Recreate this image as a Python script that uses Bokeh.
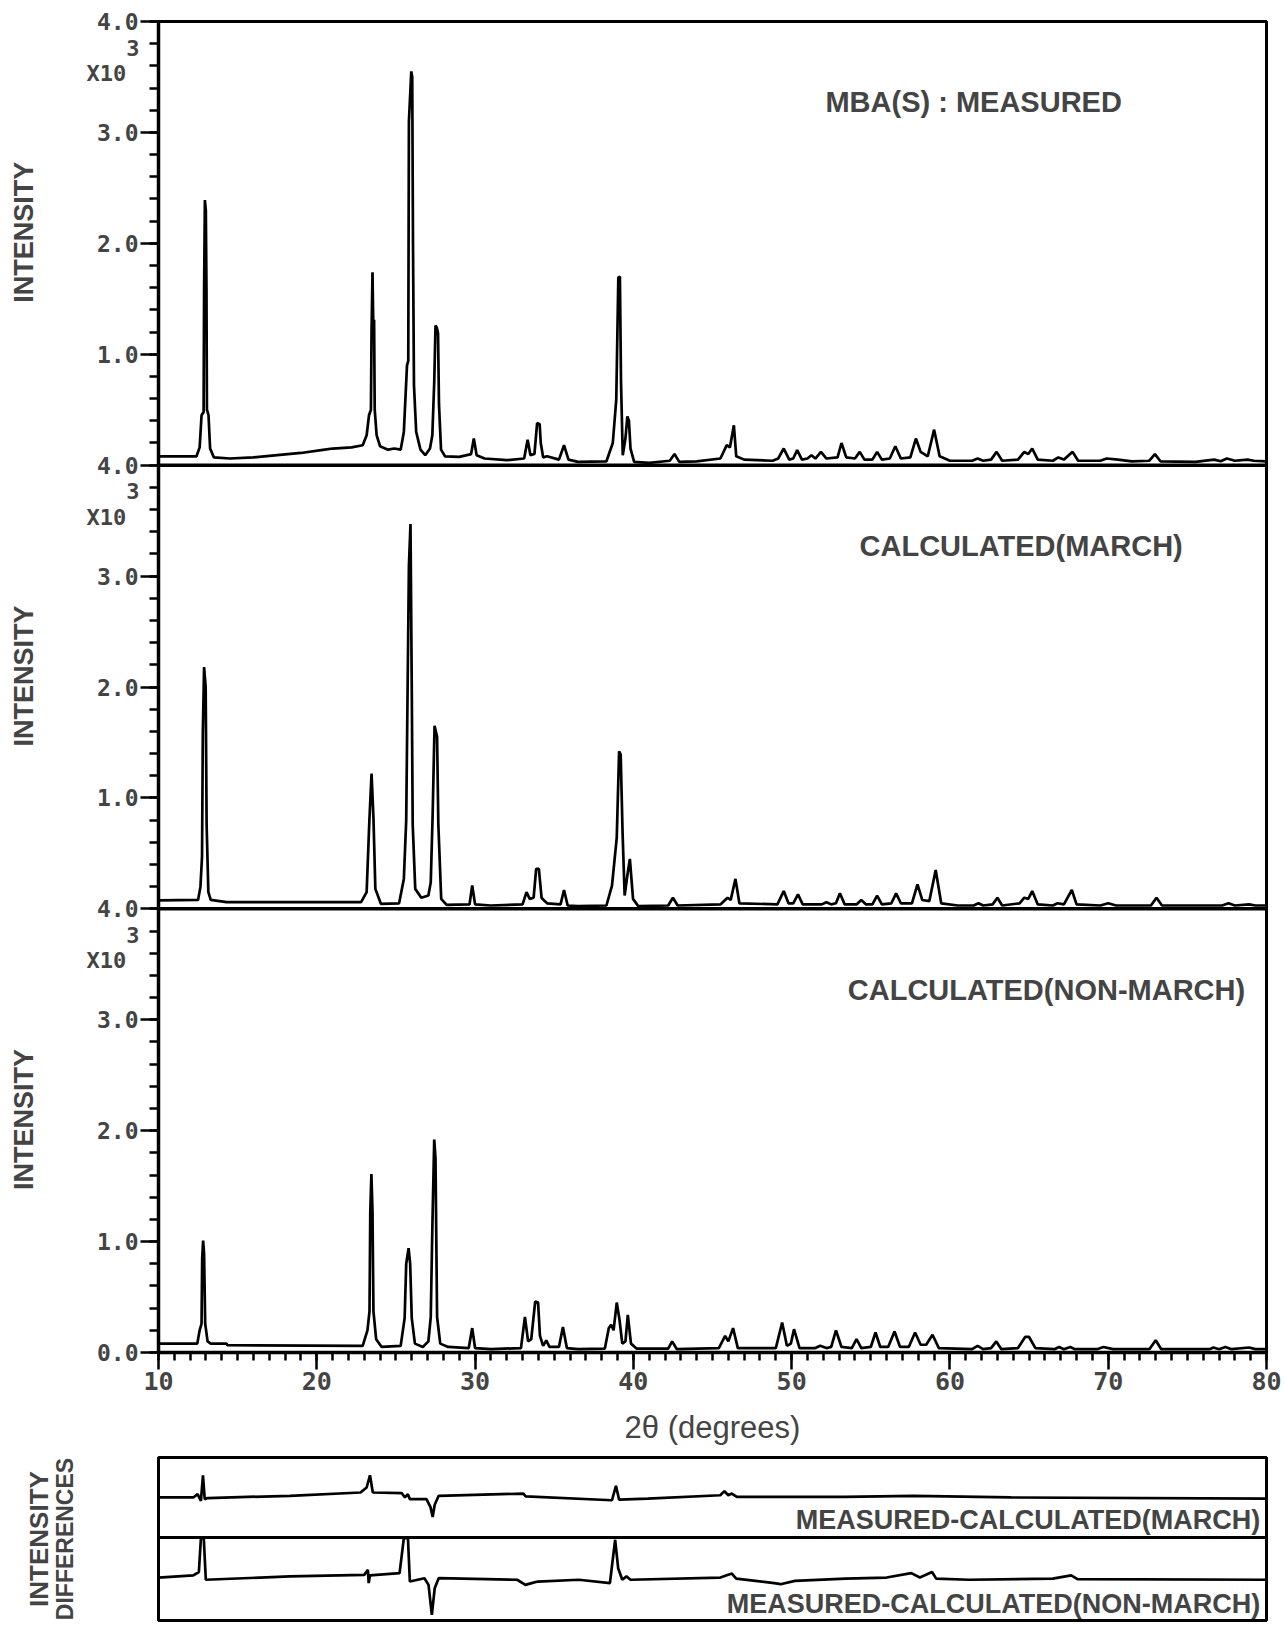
from bokeh.plotting import figure
from bokeh.models import Range1d, FixedTicker, SingleIntervalTicker, Span, Label, LinearAxis
from bokeh.layouts import column
from bokeh.embed import file_html
from bokeh.resources import INLINE

# ---------------- data (2theta in degrees, intensity in units of 10^3) ----------------
measured = [
    (10.0, 0.08), (12.4, 0.08), (12.6, 0.16), (12.72, 0.45), (12.85, 0.48), (12.88, 1.55), (12.93, 2.39),
    (12.99, 2.3), (13.03, 1.6), (13.06, 0.5), (13.16, 0.45), (13.26, 0.15), (13.5, 0.07), (14.5, 0.06),
    (16.0, 0.07), (17.5, 0.09), (19.0, 0.11), (20.5, 0.14), (21.0, 0.15), (22.2, 0.16), (22.9, 0.18),
    (23.15, 0.27), (23.3, 0.45), (23.42, 0.5), (23.46, 1.2), (23.52, 1.74), (23.57, 1.25), (23.62, 1.31),
    (23.66, 0.5), (23.78, 0.27), (24.0, 0.17), (24.5, 0.14), (24.9, 0.15), (25.3, 0.14), (25.5, 0.3),
    (25.7, 0.9), (25.78, 0.94), (25.82, 3.1), (25.97, 3.55), (26.03, 3.5), (26.08, 1.97), (26.14, 0.72),
    (26.28, 0.3), (26.55, 0.14), (26.85, 0.09), (27.15, 0.15), (27.3, 0.27), (27.42, 0.75), (27.5, 1.26),
    (27.58, 1.24), (27.66, 1.19), (27.72, 0.55), (27.85, 0.14), (28.1, 0.08), (29.0, 0.075), (29.75, 0.1),
    (29.92, 0.24), (30.1, 0.09), (30.6, 0.06), (32.0, 0.045), (33.1, 0.06), (33.32, 0.23), (33.5, 0.09),
    (33.75, 0.1), (33.92, 0.38), (34.08, 0.37), (34.15, 0.2), (34.3, 0.07), (34.55, 0.08), (35.3, 0.05),
    (35.62, 0.18), (35.9, 0.05), (36.5, 0.03), (38.3, 0.035), (38.7, 0.2), (38.92, 0.59), (39.05, 1.69),
    (39.15, 1.7), (39.22, 0.75), (39.33, 0.09), (39.5, 0.24), (39.62, 0.44), (39.72, 0.4), (39.82, 0.15),
    (40.05, 0.03), (41.0, 0.02), (42.3, 0.04), (42.6, 0.1), (42.9, 0.03), (44.0, 0.035), (45.5, 0.06),
    (45.9, 0.18), (46.1, 0.16), (46.35, 0.36), (46.5, 0.08), (47.0, 0.05), (48.8, 0.04), (49.15, 0.06),
    (49.5, 0.15), (49.85, 0.05), (50.1, 0.06), (50.35, 0.135), (50.65, 0.05), (51.0, 0.06), (51.25, 0.09),
    (51.5, 0.06), (51.85, 0.12), (52.2, 0.06), (52.9, 0.07), (53.15, 0.2), (53.45, 0.07), (54.0, 0.06),
    (54.3, 0.12), (54.6, 0.05), (55.1, 0.05), (55.4, 0.12), (55.7, 0.05), (56.2, 0.06), (56.55, 0.17),
    (56.9, 0.06), (57.5, 0.07), (57.85, 0.24), (58.15, 0.12), (58.6, 0.08), (59.0, 0.32), (59.35, 0.08),
    (60.0, 0.04), (61.4, 0.04), (61.75, 0.06), (62.1, 0.04), (62.6, 0.05), (62.95, 0.12), (63.3, 0.04),
    (64.3, 0.05), (64.7, 0.12), (64.95, 0.1), (65.2, 0.15), (65.55, 0.05), (66.5, 0.04), (66.85, 0.07),
    (67.2, 0.05), (67.75, 0.12), (68.1, 0.04), (69.5, 0.04), (69.9, 0.06), (70.6, 0.05), (71.5, 0.035),
    (72.6, 0.04), (72.95, 0.1), (73.3, 0.035), (75.5, 0.03), (76.7, 0.05), (77.1, 0.035), (77.5, 0.06),
    (78.0, 0.04), (78.8, 0.05), (79.2, 0.04), (80.0, 0.035),
]

calc_march = [
    (10.0, 0.076), (12.5, 0.08), (12.65, 0.2), (12.75, 0.47), (12.8, 1.58), (12.88, 2.18), (12.98, 2.0),
    (13.04, 0.76), (13.15, 0.15), (13.3, 0.08), (14.3, 0.06), (22.8, 0.06), (23.15, 0.15), (23.32, 0.79),
    (23.46, 1.22), (23.58, 0.82), (23.7, 0.18), (24.05, 0.045), (25.2, 0.05), (25.5, 0.27), (25.65, 0.8),
    (25.82, 3.09), (25.92, 3.47), (26.0, 2.0), (26.06, 0.76), (26.22, 0.18), (26.6, 0.1), (27.05, 0.12),
    (27.2, 0.24), (27.32, 0.85), (27.44, 1.65), (27.6, 1.55), (27.68, 0.76), (27.86, 0.09), (28.2, 0.036),
    (29.65, 0.04), (29.82, 0.21), (30.0, 0.04), (31.0, 0.03), (33.0, 0.04), (33.25, 0.15), (33.45, 0.09),
    (33.7, 0.1), (33.86, 0.36), (34.03, 0.36), (34.2, 0.1), (34.4, 0.07), (34.55, 0.05), (35.4, 0.04),
    (35.62, 0.17), (35.85, 0.03), (36.5, 0.025), (38.3, 0.03), (38.65, 0.21), (38.95, 0.64), (39.1, 1.42),
    (39.2, 1.39), (39.32, 0.68), (39.45, 0.12), (39.62, 0.3), (39.78, 0.45), (39.98, 0.09), (40.3, 0.025),
    (42.2, 0.03), (42.5, 0.1), (42.8, 0.03), (45.5, 0.04), (45.95, 0.1), (46.15, 0.08), (46.45, 0.27),
    (46.7, 0.05), (49.1, 0.04), (49.5, 0.16), (49.8, 0.05), (50.1, 0.05), (50.4, 0.13), (50.7, 0.04),
    (51.9, 0.04), (52.2, 0.06), (52.5, 0.04), (52.8, 0.05), (53.05, 0.14), (53.35, 0.04), (54.1, 0.04),
    (54.4, 0.08), (54.7, 0.04), (55.1, 0.04), (55.4, 0.12), (55.7, 0.04), (56.3, 0.05), (56.6, 0.14),
    (56.9, 0.05), (57.6, 0.05), (57.95, 0.22), (58.25, 0.08), (58.7, 0.07), (59.1, 0.35), (59.45, 0.05),
    (60.5, 0.03), (61.5, 0.03), (61.8, 0.05), (62.1, 0.03), (62.7, 0.04), (63.0, 0.1), (63.3, 0.03),
    (64.4, 0.05), (64.7, 0.1), (64.95, 0.09), (65.2, 0.16), (65.55, 0.04), (66.5, 0.03), (66.8, 0.05),
    (67.2, 0.04), (67.7, 0.17), (68.0, 0.04), (69.5, 0.03), (70.0, 0.05), (70.5, 0.03), (72.7, 0.03),
    (73.05, 0.1), (73.4, 0.03), (77.2, 0.03), (77.6, 0.05), (78.0, 0.03), (78.9, 0.04), (79.3, 0.03),
    (80.0, 0.03),
]

calc_nonmarch = [
    (10.0, 0.08), (12.45, 0.08), (12.6, 0.2), (12.72, 0.26), (12.76, 0.85), (12.82, 1.01), (12.88, 0.89),
    (12.95, 0.26), (13.1, 0.1), (13.3, 0.08), (14.3, 0.08), (14.35, 0.066), (22.9, 0.06), (23.2, 0.2),
    (23.33, 0.37), (23.38, 1.27), (23.45, 1.61), (23.52, 1.27), (23.58, 0.37), (23.75, 0.12), (24.1, 0.05),
    (25.3, 0.06), (25.55, 0.31), (25.65, 0.8), (25.8, 0.94), (25.9, 0.8), (26.0, 0.31), (26.2, 0.08),
    (26.7, 0.05), (27.05, 0.1), (27.2, 0.32), (27.3, 1.12), (27.42, 1.92), (27.5, 1.75), (27.6, 0.32),
    (27.8, 0.08), (28.3, 0.05), (29.6, 0.04), (29.82, 0.22), (30.0, 0.04), (31.0, 0.03), (32.9, 0.04),
    (33.15, 0.32), (33.35, 0.1), (33.55, 0.12), (33.8, 0.46), (33.98, 0.45), (34.1, 0.15), (34.3, 0.06),
    (34.5, 0.11), (34.7, 0.05), (35.3, 0.05), (35.55, 0.23), (35.8, 0.04), (36.5, 0.03), (38.2, 0.035),
    (38.45, 0.22), (38.6, 0.25), (38.75, 0.2), (38.95, 0.45), (39.12, 0.3), (39.3, 0.08), (39.5, 0.1),
    (39.65, 0.34), (39.85, 0.08), (40.2, 0.035), (42.2, 0.035), (42.45, 0.1), (42.75, 0.03), (45.4, 0.04),
    (45.8, 0.15), (46.0, 0.1), (46.3, 0.22), (46.6, 0.04), (49.0, 0.04), (49.4, 0.27), (49.7, 0.06),
    (49.95, 0.08), (50.15, 0.21), (50.5, 0.04), (51.5, 0.04), (51.8, 0.06), (52.2, 0.04), (52.5, 0.05),
    (52.8, 0.2), (53.15, 0.05), (53.8, 0.04), (54.1, 0.12), (54.4, 0.04), (55.0, 0.05), (55.3, 0.18),
    (55.6, 0.05), (56.1, 0.05), (56.5, 0.19), (56.85, 0.05), (57.4, 0.05), (57.8, 0.18), (58.15, 0.07),
    (58.5, 0.07), (58.9, 0.16), (59.3, 0.04), (61.4, 0.03), (61.75, 0.06), (62.1, 0.03), (62.6, 0.04),
    (62.93, 0.1), (63.25, 0.03), (64.3, 0.04), (64.75, 0.14), (65.0, 0.14), (65.4, 0.04), (66.6, 0.03),
    (66.9, 0.05), (67.2, 0.03), (67.6, 0.05), (67.9, 0.03), (69.3, 0.03), (69.7, 0.05), (70.3, 0.03),
    (72.6, 0.03), (73.0, 0.11), (73.35, 0.03), (76.4, 0.03), (76.65, 0.045), (77.0, 0.03), (77.4, 0.05),
    (77.8, 0.03), (78.9, 0.045), (79.3, 0.03), (80.0, 0.03),
]

diff_march = [
    (10.0, 0.0), (12.2, 0.0), (12.47, 0.03), (12.68, -0.03), (12.81, 0.2), (12.92, -0.015), (13.1, -0.005),
    (18.3, 0.015), (22.76, 0.045), (23.15, 0.09), (23.36, 0.2), (23.54, 0.045), (25.36, 0.04), (25.57, 0.0),
    (25.75, 0.03), (25.88, -0.015), (26.93, -0.015), (27.19, -0.09), (27.32, -0.175), (27.45, -0.065),
    (27.7, 0.015), (33.05, 0.035), (33.2, 0.01), (38.65, -0.025), (38.9, 0.105), (39.1, -0.02), (40.9, -0.01),
    (45.49, 0.02), (45.75, 0.057), (46.0, 0.02), (46.22, 0.035), (46.54, 0.005), (53.36, 0.005),
    (57.7, 0.015), (63.86, 0.0), (80.0, -0.01),
]

diff_nonmarch = [
    (10.0, 0.0), (12.2, 0.02), (12.55, 0.05), (12.68, 0.354), (12.86, 0.354), (12.99, -0.02), (18.3, 0.01),
    (23.0, 0.024), (23.23, 0.07), (23.28, -0.05), (23.36, 0.02), (25.23, 0.04), (25.5, 0.354), (25.76, 0.354),
    (25.88, -0.036), (26.8, -0.006), (27.06, -0.066), (27.27, -0.336), (27.45, -0.096), (27.7, -0.006),
    (32.66, -0.02), (33.18, -0.066), (33.57, -0.05), (33.96, -0.036), (36.56, -0.02), (38.52, -0.05),
    (38.85, 0.34), (39.04, 0.084), (39.3, -0.02), (39.56, 0.01), (39.82, -0.02), (45.5, 0.0), (46.22, 0.036),
    (46.5, -0.01), (48.9, -0.05), (49.3, -0.06), (50.2, -0.03), (53.4, -0.01), (56.0, 0.0), (57.56, 0.04),
    (58.1, 0.0), (58.87, 0.05), (59.13, -0.01), (61.2, -0.02), (66.5, -0.01), (67.66, 0.02), (68.06, -0.015),
    (80.0, -0.02),
]

panel_titles = ["MBA(S) : MEASURED", "CALCULATED(MARCH)", "CALCULATED(NON-MARCH)"]
diff_titles = ["MEASURED-CALCULATED(MARCH)", "MEASURED-CALCULATED(NON-MARCH)"]

# stacked y scale: bottom panel 0-4, middle panel 4-8, top panel 8-12
y_major_ticks = list(range(13))
y_tick_labels = ["0.0", "1.0", "2.0", "3.0", "4.0", "1.0", "2.0", "3.0", "4.0", "1.0", "2.0", "3.0", "4.0"]
y_minor_ticks = [round(0.2 * i, 1) for i in range(61)]
exp_ticks = [3.53, 3.76, 7.53, 7.76, 11.53, 11.76]
exp_labels = ["X10\u00a0", "3", "X10\u00a0", "3", "X10\u00a0", "3"]
ylabel_ticks = [2.1, 6.1, 10.1]

MONO = "DejaVu Sans Mono"
SANS = "Liberation Sans"
LW = 2.7


def xs(pts):
    return [p[0] for p in pts]


def ys(pts):
    return [p[1] for p in pts]


def bare_axis(ax):
    ax.axis_line_color = None
    ax.major_tick_line_color = None
    ax.minor_tick_line_color = None
    ax.major_tick_out = 0
    ax.major_tick_in = 0
    ax.minor_tick_out = 0
    ax.minor_tick_in = 0


# ---------------- main figure: three stacked panels ----------------
p = figure(width=1286, height=1454, x_range=Range1d(10, 80), y_range=Range1d(0, 12),
           output_backend="svg", toolbar_location=None,
           min_border_left=158, min_border_right=20, min_border_top=21, min_border_bottom=102)
p.extra_y_ranges = {"meas": Range1d(-8, 4), "march": Range1d(-4, 8)}
p.background_fill_color = "white"
p.border_fill_color = "white"
p.xgrid.visible = False
p.ygrid.visible = False
p.outline_line_color = "black"
p.outline_line_width = 3

p.line(xs(measured), ys(measured), y_range_name="meas", line_color="black", line_width=LW)
p.line(xs(calc_march), ys(calc_march), y_range_name="march", line_color="black", line_width=LW)
p.line(xs(calc_nonmarch), ys(calc_nonmarch), line_color="black", line_width=LW)

for loc in (4, 8):
    p.add_layout(Span(location=loc, dimension="width", line_color="black", line_width=3.5))

# numeric y axis (closest to the frame)
ya = p.yaxis[0]
ya.ticker = FixedTicker(ticks=y_major_ticks, minor_ticks=y_minor_ticks)
ya.major_label_overrides = {t: s for t, s in zip(y_major_ticks, y_tick_labels)}
ya.axis_line_width = 3.5
ya.major_tick_out = 18
ya.major_tick_in = 0
ya.minor_tick_out = 9
ya.minor_tick_in = 0
ya.major_tick_line_width = 2.5
ya.minor_tick_line_width = 2.5
ya.major_label_text_font = MONO
ya.major_label_text_font_style = "bold"
ya.major_label_text_font_size = "23px"
ya.major_label_standoff = 2

# "X10^3" multiplier labels
ax_exp = LinearAxis(ticker=FixedTicker(ticks=exp_ticks, minor_ticks=[]),
                    major_label_overrides={t: s for t, s in zip(exp_ticks, exp_labels)})
bare_axis(ax_exp)
ax_exp.major_label_standoff = -46
ax_exp.major_label_text_font = MONO
ax_exp.major_label_text_font_style = "bold"
ax_exp.major_label_text_font_size = "22px"
p.add_layout(ax_exp, "left")

# "INTENSITY" label for each panel
ax_int = LinearAxis(ticker=FixedTicker(ticks=ylabel_ticks, minor_ticks=[]),
                    major_label_overrides={t: "INTENSITY" for t in ylabel_ticks})
bare_axis(ax_int)
ax_int.major_label_orientation = "vertical"
ax_int.major_label_standoff = 44
ax_int.major_label_text_font = SANS
ax_int.major_label_text_font_style = "bold"
ax_int.major_label_text_font_size = "27px"
p.add_layout(ax_int, "left")

# x axis
xa = p.xaxis[0]
xa.ticker = SingleIntervalTicker(interval=10, num_minor_ticks=10)
xa.axis_line_width = 3.5
xa.major_tick_out = 17
xa.major_tick_in = 0
xa.minor_tick_out = 8
xa.minor_tick_in = 0
xa.major_tick_line_width = 2.5
xa.minor_tick_line_width = 2.5
xa.major_label_text_font = MONO
xa.major_label_text_font_style = "bold"
xa.major_label_text_font_size = "25px"
xa.major_label_standoff = 2
xa.axis_label = "2θ (degrees)"
xa.axis_label_text_font = SANS
xa.axis_label_text_font_style = "normal"
xa.axis_label_text_font_size = "31px"
xa.axis_label_standoff = 17

title_x = [61.5, 64.5, 66.1]
for name, tx, title in zip(["meas", "march", "default"], title_x, panel_titles):
    kw = {} if name == "default" else {"y_range_name": name}
    p.add_layout(Label(x=tx, y=3.27, text=title, text_align="center", text_baseline="middle",
                       text_font=SANS, text_font_style="bold", text_font_size="29px", **kw))

# ---------------- difference figure ----------------
d = figure(width=1286, height=182, x_range=p.x_range, y_range=Range1d(-1.108, 0.36),
           output_backend="svg", toolbar_location=None, x_axis_location=None, y_axis_location=None,
           min_border_left=158, min_border_right=20, min_border_top=3, min_border_bottom=16)
d.extra_y_ranges = {"nonmarch": Range1d(-0.387, 1.081)}
d.xgrid.visible = False
d.ygrid.visible = False
d.outline_line_color = "black"
d.outline_line_width = 3
d.background_fill_color = "white"
d.border_fill_color = "white"

d.line(xs(diff_march), ys(diff_march), line_color="black", line_width=LW)
d.line(xs(diff_nonmarch), ys(diff_nonmarch), y_range_name="nonmarch", line_color="black", line_width=LW)
d.add_layout(Span(location=-0.36, dimension="width", line_color="black", line_width=3))

d.add_layout(Label(x=79.6, y=-0.207, text=diff_titles[0], text_align="right", text_baseline="middle",
                   text_font=SANS, text_font_style="bold", text_font_size="27px"))
d.add_layout(Label(x=79.6, y=-0.234, y_range_name="nonmarch", text=diff_titles[1], text_align="right",
                   text_baseline="middle", text_font=SANS, text_font_style="bold", text_font_size="27px"))

for text, standoff, size in (("DIFFERENCES", 81, "23px"), ("INTENSITY", -5, "26px")):
    ax = LinearAxis(ticker=FixedTicker(ticks=[], minor_ticks=[]), axis_label=text)
    bare_axis(ax)
    ax.axis_label_standoff = standoff
    ax.axis_label_text_font = SANS
    ax.axis_label_text_font_style = "bold"
    ax.axis_label_text_font_size = size
    d.add_layout(ax, "left")

layout = column(p, d, spacing=0)
open("out.html", "w").write(file_html(layout, INLINE))
